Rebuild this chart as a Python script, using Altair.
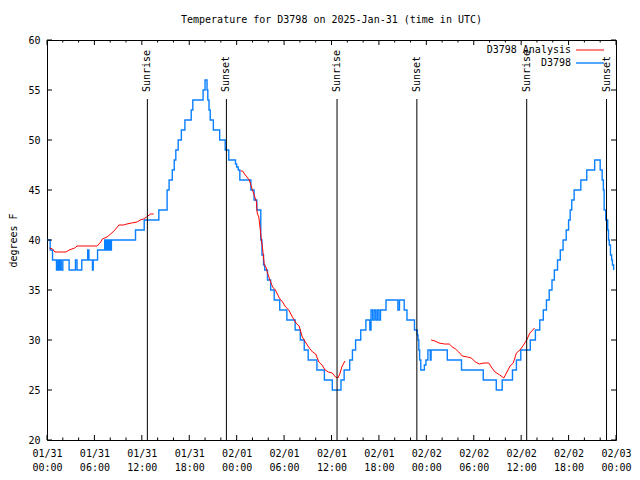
import altair as alt
import pandas as pd

# ---------------- data ----------------
title_text = "Temperature for D3798 on 2025-Jan-31 (time in UTC)"
y_title = "degrees F"
legend_labels = ["D3798 Analysis", "D3798"]
line_colors = ["#ff0000", "#0a80ff"]

x_day_labels = ["01/31", "01/31", "01/31", "01/31", "02/01", "02/01", "02/01",
                "02/01", "02/02", "02/02", "02/02", "02/02", "02/03"]
x_time_labels = ["00:00", "06:00", "12:00", "18:00", "00:00", "06:00", "12:00",
                 "18:00", "00:00", "06:00", "12:00", "18:00", "00:00"]
x_major_hours = [0, 6, 12, 18, 24, 30, 36, 42, 48, 54, 60, 66, 72]
x_minor_hours = [2, 4, 8, 10, 14, 16, 20, 22, 26, 28, 32, 34, 38, 40, 44, 46,
                 50, 52, 56, 58, 62, 64, 68, 70]
y_tick_values = [20, 25, 30, 35, 40, 45, 50, 55, 60]

# observed temperatures (hours since 01/31 00:00 UTC, degrees F)
obs_hours = [0.0, 0.4, 0.7, 1.2, 1.35, 1.5, 1.65, 1.8, 2.0, 2.8, 3.6, 3.8, 4.4,
             5.15, 5.3, 5.75, 5.85, 6.4, 7.3, 7.4, 7.55, 7.7, 7.85, 8.0, 8.15,
             11.2, 12.3, 14.15, 15.2, 15.45, 15.85, 16.1, 16.3, 16.6, 17.0,
             17.45, 18.25, 18.45, 19.75, 20.0, 20.25, 20.35, 20.5, 20.65,
             21.05, 21.85, 22.55, 23.0, 23.85, 24.0, 24.2, 24.4, 25.8, 26.2,
             26.55, 27.05, 27.2, 27.4, 27.55, 27.9, 28.3, 28.75, 29.45, 30.35,
             31.4, 32.05, 32.55, 33.05, 34.15, 35.1, 36.1, 37.2, 37.6, 38.3,
             38.65, 39.05, 39.7, 40.35, 40.85, 41.0, 41.2, 41.4, 41.6, 41.8,
             42.0, 42.2, 42.9, 44.4, 44.6, 45.2, 45.55, 46.5, 46.85, 46.95,
             47.05, 47.15, 47.3, 47.75, 47.95, 48.2, 48.5, 48.6, 50.65, 52.45,
             55.2, 56.85, 57.6, 58.9, 59.4, 59.95, 61.15, 61.8, 62.35, 62.8,
             63.2, 63.55, 63.9, 64.2, 64.6, 64.95, 65.3, 65.7, 66.0, 66.2,
             66.4, 66.7, 67.55, 68.3, 69.3, 70.0, 70.25, 70.4, 70.5, 70.7,
             70.95, 71.05, 71.15, 71.3, 71.45, 71.55, 71.7]
obs_temps = [40, 39, 38, 37, 38, 37, 38, 37, 38, 37, 38, 37, 38,
             39, 38, 37, 38, 39, 40, 39, 40, 39, 40, 39, 40,
             41, 42, 43, 45, 46, 47, 48, 49, 50, 51,
             52, 53, 54, 55, 56, 55, 54, 53, 52,
             51, 50, 49, 48, 47.6, 47.3, 47, 46, 45, 44,
             43, 40, 38.5, 37.5, 37, 36, 35, 34, 33, 32,
             31, 30, 29, 28, 27, 26, 25, 26, 27, 28,
             29, 30, 31, 32, 31, 33, 32, 33, 32, 33,
             32, 33, 34, 33, 34, 33, 32, 31, 30.5, 30,
             29, 28, 27, 27.5, 28, 29, 28, 29, 28, 27,
             26, 25, 26, 27, 28, 29, 30, 31, 32, 33,
             34, 35, 36, 37, 38, 39, 40, 41, 42, 43,
             44, 45, 46, 47, 48, 47, 46, 45, 43, 42,
             41, 40, 39.5, 38.5, 38, 37.5, 37]

# analysis temperatures, three separate runs
ana_segment = [1] * 23 + [2] * 40 + [3] * 28
ana_hours = [0.3, 0.7, 1.0, 2.4, 2.8, 3.5, 3.8, 6.35, 6.8, 7.0, 7.6, 8.2, 8.7,
             9.1, 9.7, 10.1, 10.7, 11.4, 11.8, 12.2, 12.6, 13.1, 13.5,
             24.5, 24.75, 25.0, 25.6, 26.0, 26.3, 26.5, 26.6, 26.8, 26.95,
             27.1, 27.3, 27.5, 27.7, 27.9, 28.3, 28.55, 28.9, 29.4, 29.8,
             30.2, 30.6, 31.05, 31.5, 31.9, 32.3, 32.7, 33.1, 33.6, 34.0,
             34.4, 34.8, 35.2, 35.6, 36.1, 36.5, 36.8, 37.05, 37.3, 37.7,
             48.6, 49.1, 49.6, 50.3, 50.9, 51.3, 51.7, 52.1, 52.55, 53.2,
             53.7, 54.2, 54.7, 55.3, 55.9, 56.3, 56.7, 57.3, 57.8, 58.2,
             58.6, 59.0, 59.4, 59.85, 60.3, 60.7, 61.1, 61.7]
ana_temps = [39.2, 39.1, 38.8, 38.8, 39.0, 39.2, 39.4, 39.4, 39.8, 40.1, 40.3,
             40.7, 41.1, 41.5, 41.5, 41.6, 41.7, 41.8, 42.0, 42.1, 42.3, 42.6,
             42.6,
             46.9, 46.9, 46.6, 46.0, 45.0, 44.3, 43.8, 42.7, 42.3, 41.3,
             40.2, 39.0, 37.5, 37.3, 36.7, 35.8, 35.3, 35.0, 34.2, 33.8,
             33.3, 33.0, 32.3, 31.7, 31.4, 30.3, 29.8, 29.3, 28.8, 28.6,
             27.8, 27.5, 27.0, 26.8, 26.7, 26.3, 26.2, 26.6, 27.3, 27.9,
             30.0, 29.9, 29.7, 29.6, 29.6, 29.3, 29.1, 28.8, 28.4, 28.3,
             28.2, 27.8, 27.6, 27.7, 27.7, 27.2, 26.8, 26.5, 26.2, 26.8,
             27.4, 27.7, 28.7, 29.0, 29.5, 30.0, 30.7, 31.2]

sun_labels = ["Sunrise", "Sunset", "Sunrise", "Sunset", "Sunrise", "Sunset"]
sun_hours = [12.7, 22.7, 36.7, 46.8, 60.7, 70.8]

# ---------------- chart ----------------
W, H = 569, 400
FONT = "DejaVu Sans Mono"
FS = 10

obs_df = pd.DataFrame({"t": obs_hours, "v": obs_temps})
ana_df = pd.DataFrame({"t": ana_hours, "v": ana_temps, "seg": ana_segment})
sun_df = pd.DataFrame({"t": sun_hours, "label": sun_labels})
major_df = pd.DataFrame({"t": x_major_hours})
minor_df = pd.DataFrame({"t": x_minor_hours})
ytick_df = pd.DataFrame({"v": y_tick_values})
title_df = pd.DataFrame({"text": [title_text]})
leg1_df = pd.DataFrame({"text": [legend_labels[0]]})
leg2_df = pd.DataFrame({"text": [legend_labels[1]]})

xs = alt.Scale(domain=[0, 72], nice=False, zero=False)
ys = alt.Scale(domain=[20, 60], nice=False, zero=False)

day_js = "[" + ",".join("'%s'" % s for s in x_day_labels) + "]"
time_js = "[" + ",".join("'%s'" % s for s in x_time_labels) + "]"
label_expr = "[%s[round(datum.value/6)], %s[round(datum.value/6)]]" % (day_js, time_js)

x_axis = alt.Axis(values=x_major_hours, labelExpr=label_expr, ticks=False, tickSize=0,
                  domain=False, grid=False, title=None, labelFont=FONT,
                  labelFontSize=FS, labelColor="black", labelPadding=8,
                  labelBaseline="top", labelLineHeight=14, labelFlush=False,
                  labelOverlap=False, labelBound=False)
y_axis = alt.Axis(values=y_tick_values, format="d", ticks=False, tickSize=0,
                  domain=False, grid=False, title=y_title, labelFont=FONT,
                  labelFontSize=FS, labelColor="black", labelPadding=7,
                  titleFont=FONT, titleFontSize=FS, titleFontWeight="normal",
                  titleColor="black", titleAngle=270, titleX=-34, titleY=H / 2,
                  titleAlign="center", titleBaseline="middle", labelFlush=False,
                  labelOverlap=False)


def X(field="t:Q"):
    return alt.X(field, scale=xs, axis=x_axis)


def Y(field="v:Q"):
    return alt.Y(field, scale=ys, axis=y_axis)


ana_line = alt.Chart(ana_df).mark_line(color=line_colors[0], strokeWidth=1).encode(
    x=X(), y=Y(), detail="seg:N", order="t:Q",
)
obs_line = alt.Chart(obs_df).mark_line(color=line_colors[1], strokeWidth=1.4,
                                       interpolate="step-after").encode(
    x=X(), y=Y(), order="t:Q",
)
sun_rule = alt.Chart(sun_df).mark_rule(color="black", strokeWidth=1).encode(
    x=X(), y=alt.value(59), y2=alt.value(H),
)
sun_text = alt.Chart(sun_df).mark_text(angle=270, align="left", baseline="middle",
                                       font=FONT, fontSize=FS, color="black").encode(
    x=X(), y=alt.value(52), text="label:N",
)


def xticks(df, length):
    bottom = alt.Chart(df).mark_rule(color="black", strokeWidth=1).encode(
        x=X(), y=alt.value(H), y2=alt.value(H - length))
    top = alt.Chart(df).mark_rule(color="black", strokeWidth=1).encode(
        x=X(), y=alt.value(0), y2=alt.value(length))
    return [bottom, top]


yt_left = alt.Chart(ytick_df).mark_rule(color="black", strokeWidth=1).encode(
    y=Y(), x=alt.value(0), x2=alt.value(5))
yt_right = alt.Chart(ytick_df).mark_rule(color="black", strokeWidth=1).encode(
    y=Y(), x=alt.value(W), x2=alt.value(W - 5))

title = alt.Chart(title_df).mark_text(font=FONT, fontSize=FS, color="black",
                                      align="center", baseline="middle").encode(
    x=alt.value(W / 2), y=alt.value(-20), text="text:N")

leg1_text = alt.Chart(leg1_df).mark_text(font=FONT, fontSize=FS, color="black",
                                         align="right", baseline="middle").encode(
    x=alt.value(W - 45), y=alt.value(10), text="text:N")
leg2_text = alt.Chart(leg2_df).mark_text(font=FONT, fontSize=FS, color="black",
                                         align="right", baseline="middle").encode(
    x=alt.value(W - 45), y=alt.value(23), text="text:N")
leg1_line = alt.Chart(leg1_df).mark_rule(color=line_colors[0], strokeWidth=1).encode(
    x=alt.value(W - 40), x2=alt.value(W - 12), y=alt.value(10))
leg2_line = alt.Chart(leg2_df).mark_rule(color=line_colors[1], strokeWidth=1.4).encode(
    x=alt.value(W - 40), x2=alt.value(W - 12), y=alt.value(23))

layers = [obs_line, ana_line] + xticks(major_df, 5) + xticks(minor_df, 2.5) + [
    yt_left, yt_right, sun_rule, sun_text, title, leg1_text, leg2_text,
    leg1_line, leg2_line]

chart = alt.layer(*layers).properties(
    width=W, height=H,
    padding={"left": 39, "top": 32, "right": 16, "bottom": 32},
    autosize=alt.AutoSizeParams(type="none"),
    background="white",
).configure_view(stroke="black", strokeWidth=1)

chart.save("out.html", embed_options={"renderer": "svg", "actions": False})
